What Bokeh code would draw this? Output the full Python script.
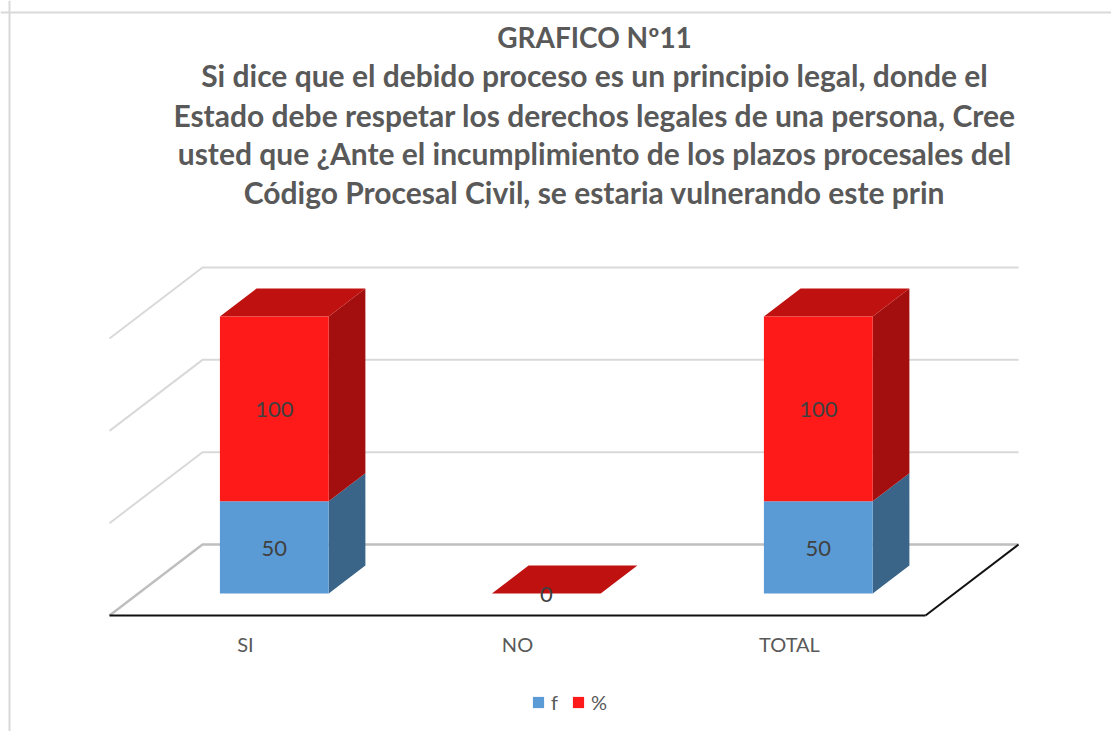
from bokeh.plotting import figure
from bokeh.models import Range1d, FixedTicker, Legend, LegendItem, Span, ColumnDataSource
from bokeh.core.properties import value
from bokeh.embed import file_html
from bokeh.resources import INLINE

categories = ["SI", "NO", "TOTAL"]
f_values = [50, 0, 50]
pct_values = [100, 0, 100]
series_names = ["f", "%"]
grid_ticks = [0, 50, 100, 150]
title_lines = [
    "GRAFICO Nº11",
    "Si dice que el debido proceso es un principio legal, donde el",
    "Estado debe respetar los derechos legales de una persona, Cree",
    "usted que ¿Ante el incumplimiento de los plazos procesales del",
    "Código Procesal Civil, se estaria vulnerando este prin",
]

W, H = 1111, 731
LEFT, TOP = 0, 0
CAT_PX = 272.0
V_PX = 92.33 / 50
X0_PX, Y0_PX = 245.0, 615.0
DEPTH_X, DEPTH_Y = 93.0, 71.0
BAR_W = 0.4
D_FRONT, D_BACK = 22 / 71, 50 / 71


def dx(px):
    return (px - X0_PX) / CAT_PX


def dy(py):
    return (Y0_PX - py) / V_PX


def proj(u, v, d):
    return u + d * DEPTH_X / CAT_PX, v + d * DEPTH_Y / V_PX


p = figure(width=W, height=H, output_backend="svg", toolbar_location=None,
           x_range=Range1d(dx(LEFT), dx(LEFT + W)), y_range=Range1d(dy(TOP + H), dy(TOP)),
           y_axis_location=None, x_axis_location="below", min_border=0,
           min_border_left=0, min_border_right=0, min_border_top=0, min_border_bottom=0)
p.outline_line_color = None
p.grid.visible = False
p.background_fill_color = "white"

# chart border
p.add_layout(Span(location=dy(12), dimension="width", line_color="#d9d9d9", line_width=2))
p.add_layout(Span(location=dx(9), dimension="height", line_color="#d9d9d9", line_width=2))

# walls and floor
lo, hi = -0.5, 2.5
for t in grid_ticks:
    col = "#bfbfbf" if t == 0 else "#d9d9d9"
    lw = 2.5 if t == 0 else 2
    a, b, c = proj(lo, t, 0), proj(lo, t, 1), proj(hi, t, 1)
    p.line([a[0], b[0], c[0]], [a[1], b[1], c[1]], line_color=col, line_width=lw)
a, b = proj(hi, 0, 0), proj(hi, 0, 1)
p.line([a[0], b[0]], [a[1], b[1]], line_color="#111111", line_width=2)

# bars


def faces(base, height):
    front, side, top = ([], []), ([], []), ([], [])
    for i, (b0, h) in enumerate(zip(base, height)):
        x0, x1 = i - BAR_W / 2, i + BAR_W / 2
        y0, y1 = b0, b0 + h
        fr = [proj(x0, y0, D_FRONT), proj(x1, y0, D_FRONT), proj(x1, y1, D_FRONT), proj(x0, y1, D_FRONT)]
        sd = [proj(x1, y0, D_FRONT), proj(x1, y0, D_BACK), proj(x1, y1, D_BACK), proj(x1, y1, D_FRONT)]
        tp = [proj(x0, y1, D_FRONT), proj(x1, y1, D_FRONT), proj(x1, y1, D_BACK), proj(x0, y1, D_BACK)]
        for store, poly in ((front, fr), (side, sd), (top, tp)):
            store[0].append([q[0] for q in poly])
            store[1].append([q[1] for q in poly])
    return front, side, top


zero = [0 for _ in f_values]
f_front, f_side, _ = faces(zero, f_values)
p_front, p_side, p_top = faces(f_values, pct_values)

p.patches(f_side[0], f_side[1], fill_color="#3A6589", line_color=None)
r_f = p.patches(f_front[0], f_front[1], fill_color="#5B9BD5", line_color=None)
p.patches(p_side[0], p_side[1], fill_color="#A30F0E", line_color=None)
p.patches(p_top[0], p_top[1], fill_color="#BF1210", line_color=None)
r_p = p.patches(p_front[0], p_front[1], fill_color="#FF1A1A", line_color=None)

# data labels
lx, ly, lt = [], [], []
for i, (a_, b_) in enumerate(zip(f_values, pct_values)):
    if a_ > 0:
        q = proj(i, a_ / 2, D_FRONT)
        lx.append(q[0]); ly.append(q[1]); lt.append(str(a_))
    q = proj(i, a_ + b_ / 2, D_FRONT)
    lx.append(q[0]); ly.append(q[1]); lt.append(str(b_))
p.text(lx, ly, text=lt, text_font=value("Lato"), text_font_size="22px", text_color="#404040",
       text_align="center", text_baseline="middle", y_offset=1)

# x axis at floor front
ax = p.xaxis[0]
ax.fixed_location = 0
ax.bounds = (lo, hi)
ax.ticker = FixedTicker(ticks=list(range(len(categories))))
ax.major_label_overrides = {i: c for i, c in enumerate(categories)}
ax.major_tick_line_color = None
ax.minor_tick_line_color = None
ax.axis_line_color = "#111111"
ax.axis_line_width = 2
ax.major_label_standoff = 10
ax.major_label_text_font = "Lato"
ax.major_label_text_font_size = "20px"
ax.major_label_text_color = "#595959"

# title
title_py = [36, 74, 114, 152, 191]
title_sizes = ["28px", "30px", "30px", "30px", "30px"]
title_src = ColumnDataSource(dict(x=[dx(594)] * len(title_lines), y=[dy(v) for v in title_py],
                                  t=title_lines, s=title_sizes))
p.text("x", "y", text="t", source=title_src, text_font=value("Lato"), text_font_style="bold",
       text_font_size="s", text_color="#595959", text_align="center", text_baseline="middle")

legend = Legend(items=[LegendItem(label=series_names[0], renderers=[r_f]),
                       LegendItem(label=series_names[1], renderers=[r_p])],
                location=(531, 17), orientation="horizontal",
                border_line_color=None, background_fill_alpha=0,
                glyph_width=14, glyph_height=14, label_text_font="Lato",
                label_text_font_size="20px", label_text_color="#595959",
                padding=0, margin=0, spacing=0, label_standoff=6)
p.add_layout(legend)

open("out.html", "w").write(file_html(p, INLINE))
